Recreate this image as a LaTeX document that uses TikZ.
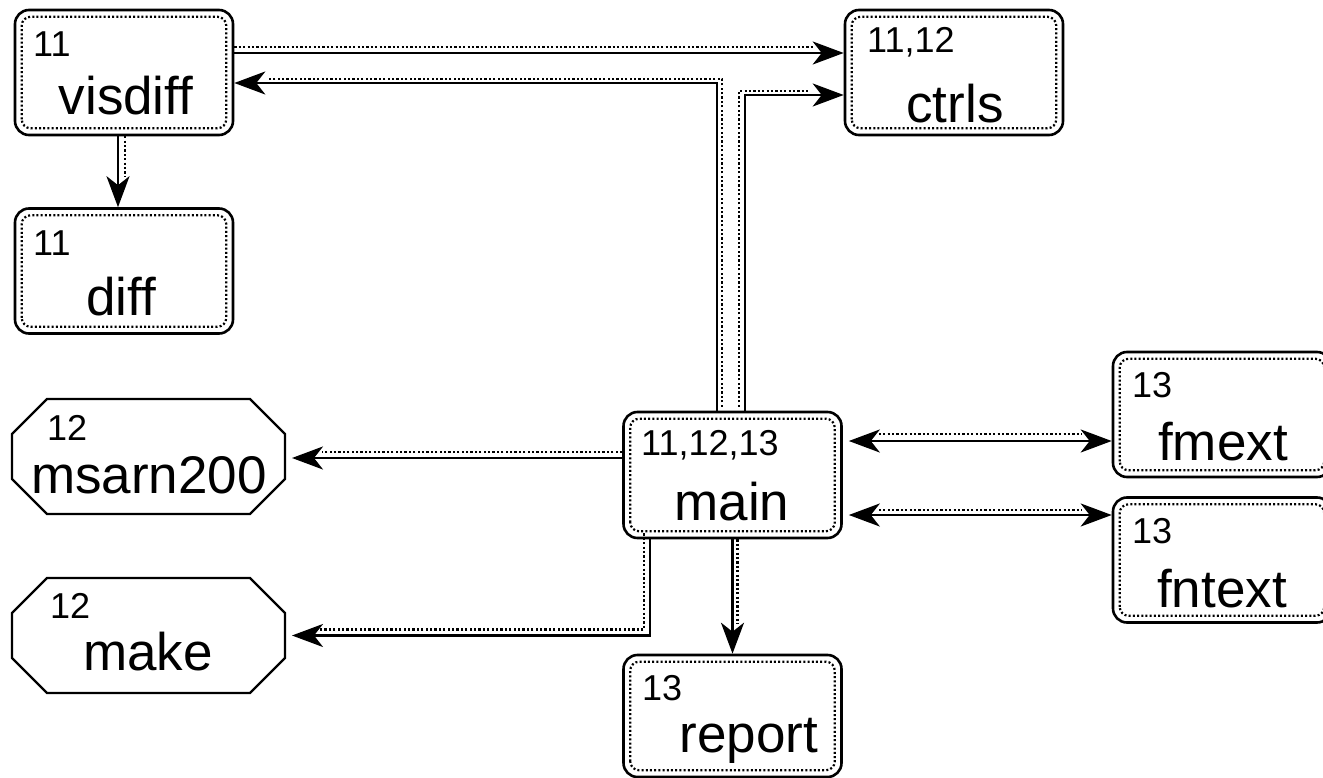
\documentclass[tikz,border=0pt]{standalone}
\usepackage{fontspec}
\setmainfont{Liberation Sans}
\usetikzlibrary{arrows.meta}

% one call = solid arrow + dotted companion line beside it
\newcommand{\wire}[3]{%
  \draw[dotwire,#1] #3;
  \draw[solidwire,#2] #3;}

\begin{document}
\begin{tikzpicture}[x=1pt,y=-1pt,>={Stealth[length=31pt,width=23pt,inset=9pt]}]
\tikzset{box/.style={draw,line width=2.6pt,rounded corners=14pt,minimum width=218pt,minimum height=125pt,inner sep=0pt},
oct/.style={minimum width=273pt,minimum height=115pt,inner sep=0pt,outer sep=0pt},
octline/.style={line width=2.2pt,line join=miter},
rim/.style={line width=2.2pt,dash pattern=on 2pt off 2.2pt,rounded corners=9pt},
modnum/.style={anchor=base west,inner sep=0pt,font=\fontsize{36}{40}\selectfont},
modname/.style={anchor=base,inner sep=0pt,font=\fontsize{53}{60}\selectfont},
solidwire/.style={line width=2.6pt,->},
dotwire/.style={line width=2.4pt,dash pattern=on 2.2pt off 2.2pt}}

\useasboundingbox (0,0) rectangle (1323,778);

% modules
\node[box] (visdiff) at (124,72.5) {};
\node[box] (diff) at (124,271) {};
\node[box] (ctrls) at (954,72.5) {};
\node[box,minimum height=126pt] (main) at (732.5,475) {};
\node[box,minimum height=122pt] (report) at (732.5,716) {};
\node[box] (fmext) at (1222,414.5) {};
\node[box] (fntext) at (1222,560) {};
\node[oct] (msarn200) at (148.5,456.5) {};
\node[oct] (make) at (148.5,635.5) {};
\foreach \b in {visdiff,diff,ctrls,main,report,fmext,fntext}
  \draw[rim] ([shift={(8pt,8pt)}]\b.south west) rectangle ([shift={(-8pt,-8pt)}]\b.north east);
\foreach \b in {msarn200,make}
  \draw[octline] ([xshift=35pt]\b.north west) -- ([xshift=-35pt]\b.north east)
    -- ([yshift=-35pt]\b.north east) -- ([yshift=35pt]\b.south east)
    -- ([xshift=-35pt]\b.south east) -- ([xshift=35pt]\b.south west)
    -- ([yshift=35pt]\b.south west) -- ([yshift=-35pt]\b.north west) -- cycle;

% labels
\node[modnum] (visdiff-n) at (33,57) {11};
\node[modname] (visdiff-t) at (126,115) {visdiff};
\node[modnum] (diff-n) at (33,255) {11};
\node[modname] (diff-t) at (121,315) {diff};
\node[modnum] (ctrls-n) at (867,53) {11,12};
\node[modname] (ctrls-t) at (955,123) {ctrls};
\node[modnum] (main-n) at (641,455) {11,12,13};
\node[modname] (main-t) at (732,520) {main};
\node[modnum] (report-n) at (642,700) {13};
\node[modname] (report-t) at (749,752) {report};
\node[modnum] (fmext-n) at (1132,397) {13};
\node[modname] (fmext-t) at (1223,460) {fmext};
\node[modnum] (fntext-n) at (1132,543) {13};
\node[modname] (fntext-t) at (1222,607) {fntext};
\node[modnum] (msarn200-n) at (47,440) {12};
\node[modname] (msarn200-t) at (149,493) {msarn200};
\node[modnum] (make-n) at (50,618) {12};
\node[modname] (make-t) at (148,670) {make};

% calls
\wire{transform canvas={yshift=6pt},shorten >=30pt}{}{([yshift=19.5pt]visdiff.east) -- ([yshift=19.5pt]ctrls.west)}
\wire{transform canvas={xshift=5pt,yshift=4pt},shorten >=30pt}{}{([xshift=-15.5pt]main.north) |- ([yshift=-10.5pt]visdiff.east)}
\wire{transform canvas={xshift=-6pt,yshift=4pt},shorten >=30pt}{}{([xshift=12.5pt]main.north) |- ([yshift=-22.5pt]ctrls.west)}
\wire{transform canvas={xshift=7pt},shorten >=30pt}{}{([xshift=-6pt]visdiff.south) -- ([xshift=-6pt]diff.north)}
\wire{transform canvas={yshift=6pt},shorten >=37pt}{shorten >=7pt}{([yshift=17pt]main.west) -- ([yshift=17pt]main.west -| msarn200.east)}
\wire{transform canvas={xshift=-6pt,yshift=6pt},shorten >=37pt}{shorten >=7pt}{([xshift=-82.5pt]main.south) |- (make.east)}
\wire{transform canvas={xshift=5pt},shorten >=30pt}{}{(main.south) -- (report.north)}
\wire{transform canvas={yshift=7pt},shorten <=36pt,shorten >=30pt}{<->,shorten <=6pt}{([yshift=34pt]main.east) -- ([yshift=34pt]main.east -| fmext.west)}
\wire{transform canvas={yshift=5pt},shorten <=36pt,shorten >=30pt}{<->,shorten <=6pt}{([yshift=-40pt]main.east) -- ([yshift=-40pt]main.east -| fntext.west)}
\end{tikzpicture}
\end{document}
